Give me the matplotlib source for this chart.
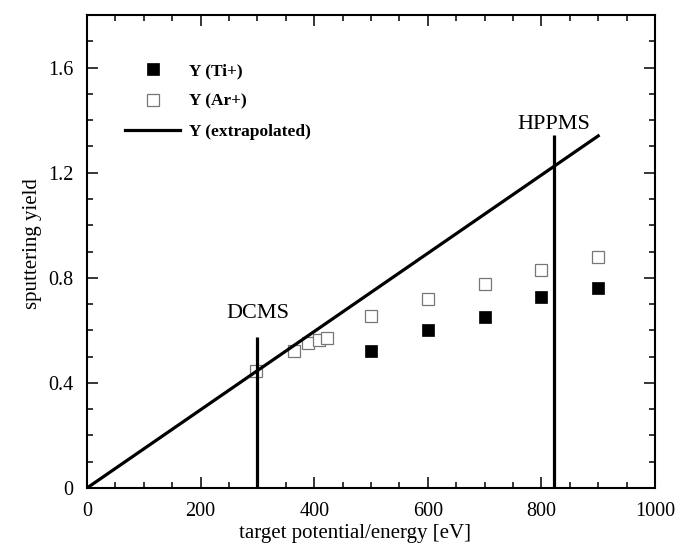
import matplotlib
matplotlib.use("Agg")
import matplotlib.pyplot as plt
from matplotlib.ticker import MultipleLocator, FixedLocator
import numpy as np

plt.rcParams['font.family'] = ['Liberation Serif', 'DejaVu Serif']

ti_x = [500, 600, 700, 800, 900]
ti_y = [0.52, 0.603, 0.652, 0.728, 0.762]
ar_x = [297, 364, 389, 409, 423, 500, 600, 700, 800, 900]
ar_y = [0.444, 0.523, 0.553, 0.565, 0.569, 0.656, 0.72, 0.777, 0.830, 0.880]
extrap_x = [0, 900]
extrap_y = [0.0, 1.34]
dcms_x, dcms_top = 300, 0.573
hppms_x, hppms_top = 822, 1.345

fig = plt.figure(figsize=(6.75, 5.48), dpi=100)
ax = fig.add_axes([0.1289, 0.1095, 0.9704 - 0.1289, 0.9726 - 0.1095])

ax.plot(extrap_x, extrap_y, color='black', lw=2.3, label='Y (extrapolated)', zorder=3)
ax.plot(ar_x, ar_y, ls='none', marker='s', ms=8.5, mfc='white', mec='#777777', mew=0.9,
        label='Y (Ar+)', zorder=2)
ax.plot(ti_x, ti_y, ls='none', marker='s', ms=9.2, mfc='black', mec='black', mew=0.5,
        label='Y (Ti+)', zorder=4)

ax.vlines([dcms_x], 0, dcms_top, color='black', lw=2.3, zorder=3)
ax.vlines([hppms_x], 0, hppms_top, color='black', lw=2.3, zorder=3)
ax.text(dcms_x, 0.664, 'DCMS', ha='center', va='center', fontsize=16)
ax.text(hppms_x, 1.384, 'HPPMS', ha='center', va='center', fontsize=16)

ax.set_xlim(0, 1000)
ax.set_ylim(0, 1.8)
ax.xaxis.set_major_locator(MultipleLocator(200))
ax.xaxis.set_minor_locator(MultipleLocator(50))
ax.yaxis.set_major_locator(FixedLocator([0, 0.4, 0.8, 1.2, 1.6]))
ax.yaxis.set_minor_locator(MultipleLocator(0.1))
ax.set_yticklabels(['0', '0.4', '0.8', '1.2', '1.6'])
ax.tick_params(which='both', direction='in', top=True, right=True, width=1.1, labelsize=14.5)
ax.tick_params(which='major', length=8)
ax.tick_params(axis='x', which='major', pad=10)
ax.tick_params(axis='y', which='major', pad=10)
ax.tick_params(which='minor', length=4.5)
for s in ax.spines.values():
    s.set_linewidth(1.5)

ax.set_xlabel('target potential/energy [eV]', fontsize=15)
ax.set_ylabel('sputtering yield', fontsize=15)
ax.xaxis.set_label_coords(0.472, -0.076)
ax.yaxis.set_label_coords(-0.080, 0.516)

h, l = ax.get_legend_handles_labels()
order = [2, 1, 0]
leg = ax.legend([h[i] for i in order], [l[i] for i in order], loc='upper left',
                bbox_to_anchor=(0.039, 0.932), frameon=False, handlelength=3.2,
                handletextpad=0.5, labelspacing=0.84, borderpad=0.4,
                prop={'weight': 'bold', 'size': 12.5})

fig.savefig('out.png', dpi=100)
